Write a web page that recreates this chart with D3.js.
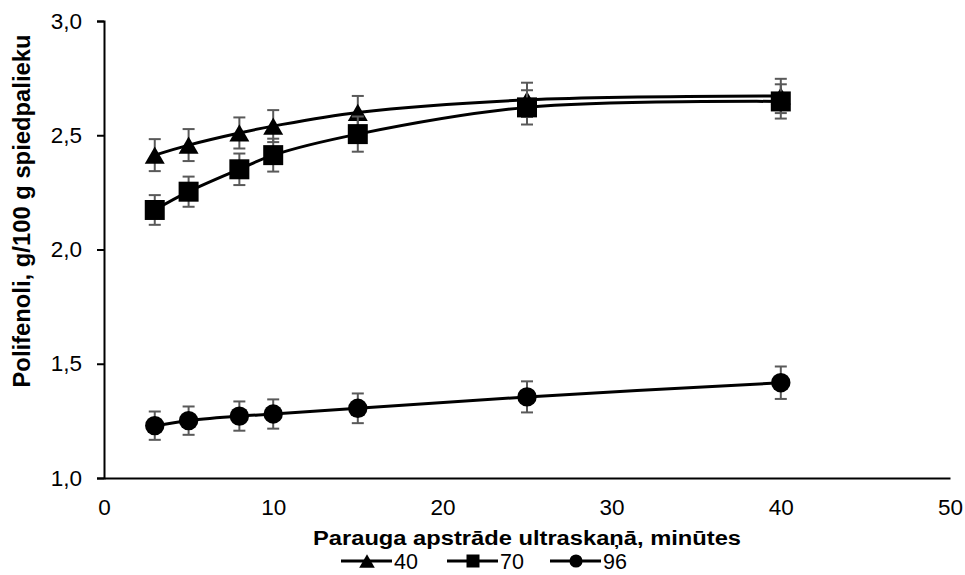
<!DOCTYPE html>
<html>
<head>
<meta charset="utf-8">
<script src="https://cdn.jsdelivr.net/npm/d3@7"></script>
<style>
  html, body { margin: 0; padding: 0; background: #fff; }
  svg { display: block; font-family: "Liberation Sans", Arial, sans-serif; }
</style>
</head>
<body>
<svg id="chart" width="965" height="575"></svg>
<script>
// Treatment time in the ultrasonic bath, minutes
const minutes = [3, 5, 8, 10, 15, 25, 40];

// Polyphenol content (g/100 g pomace) for each ethanol concentration
const series40 = [2.413, 2.457, 2.51, 2.54, 2.60, 2.655, 2.672];
const series70 = [2.173, 2.253, 2.351, 2.413, 2.505, 2.622, 2.648];
const series96 = [1.229, 1.251, 1.271, 1.28, 1.305, 1.355, 1.417];

// Standard deviations shown as error bars
const err40 = [0.070, 0.070, 0.068, 0.070, 0.072, 0.075, 0.075];
const err70 = [0.065, 0.066, 0.069, 0.072, 0.077, 0.075, 0.075];
const err96 = [0.062, 0.062, 0.064, 0.064, 0.065, 0.068, 0.071];

const seriesNames = ["40", "70", "96"];
const xTicks = [0, 10, 20, 30, 40, 50];
const yTicks = [1.0, 1.5, 2.0, 2.5, 3.0];

const svg = d3.select("#chart");
const plotLeft = 104, plotRight = 950, plotTop = 21, plotBottom = 478;

const x = d3.scaleLinear().domain([0, 50]).range([plotLeft, plotRight]);
const y = d3.scaleLinear().domain([1, 3]).range([plotBottom, plotTop]);
const fmt = v => d3.format(".1f")(v).replace(".", ",");

// Axes
const yAxis = svg.append("g")
  .attr("transform", `translate(${plotLeft},0)`)
  .call(d3.axisLeft(y).tickValues(yTicks).tickFormat(fmt).tickSizeOuter(0).tickSize(7).tickPadding(15));
const xAxis = svg.append("g")
  .attr("transform", `translate(0,${plotBottom})`)
  .call(d3.axisBottom(x).tickValues(xTicks).tickFormat(d3.format("d")).tickSizeOuter(0).tickSize(0).tickPadding(21));
[yAxis, xAxis].forEach(g => {
  g.select(".domain").attr("stroke", "#000").attr("stroke-width", 2);
  g.selectAll(".tick line").attr("stroke", "#000").attr("stroke-width", 2);
  g.selectAll(".tick text").attr("fill", "#000")
    .style("font-size", "22.5px").style("font-family", "Liberation Sans, Arial, sans-serif");
});

// Axis titles
svg.append("text")
  .attr("x", 527).attr("y", 545)
  .attr("text-anchor", "middle")
  .attr("textLength", 428).attr("lengthAdjust", "spacingAndGlyphs")
  .style("font-size", "20px").style("font-weight", "bold")
  .text("Parauga apstrāde ultraskaņā, minūtes");
svg.append("text")
  .attr("transform", "translate(30,211) rotate(-90)")
  .attr("text-anchor", "middle")
  .attr("textLength", 353).attr("lengthAdjust", "spacingAndGlyphs")
  .style("font-size", "23px").style("font-weight", "bold")
  .text("Polifenoli, g/100 g spiedpalieku");

const allSeries = [
  { name: seriesNames[0], values: series40, err: err40, shape: d3.symbolTriangle },
  { name: seriesNames[1], values: series70, err: err70, shape: d3.symbolSquare },
  { name: seriesNames[2], values: series96, err: err96, shape: d3.symbolCircle }
];

// Marker area for plot (big) and legend (small) symbols
function symArea(shape, big) {
  if (shape === d3.symbolTriangle) return big ? 173 : 105;
  if (shape === d3.symbolSquare) return big ? 400 : 169;
  return big ? 295 : 135;
}
// d3's triangle sits on its centroid; shift it so its bounding box is centred
function symOffset(shape, area) {
  if (shape !== d3.symbolTriangle) return 0;
  return Math.sqrt(area / (3 * Math.sqrt(3))) / 2;
}

const line = d3.line()
  .x((d, i) => x(minutes[i]))
  .y(d => y(d))
  .curve(d3.curveCatmullRom.alpha(0.5));

allSeries.forEach(s => {
  const g = svg.append("g");
  // error bars
  const eb = g.append("g").attr("stroke", "#595959").attr("stroke-width", 2);
  s.values.forEach((v, i) => {
    const cx = x(minutes[i]);
    const y1 = y(v + s.err[i]), y0 = y(v - s.err[i]);
    eb.append("line").attr("x1", cx).attr("x2", cx).attr("y1", y1).attr("y2", y0);
    eb.append("line").attr("x1", cx - 6).attr("x2", cx + 6).attr("y1", y1).attr("y2", y1);
    eb.append("line").attr("x1", cx - 6).attr("x2", cx + 6).attr("y1", y0).attr("y2", y0);
  });
  g.append("path").datum(s.values)
    .attr("d", line).attr("fill", "none")
    .attr("stroke", "#000").attr("stroke-width", 3);
  const area = symArea(s.shape, true);
  const off = symOffset(s.shape, area);
  g.selectAll(".m").data(s.values).join("path")
    .attr("transform", (d, i) => `translate(${x(minutes[i])},${y(d) + off})`)
    .attr("d", d3.symbol().type(s.shape).size(area)())
    .attr("fill", "#000");
});

// Legend
const legend = svg.append("g");
const legendX = [341, 447, 550];
allSeries.forEach((s, i) => {
  const lx = legendX[i], ly = 561;
  const area = symArea(s.shape, false);
  legend.append("line").attr("x1", lx).attr("x2", lx + 51)
    .attr("y1", ly).attr("y2", ly).attr("stroke", "#000").attr("stroke-width", 3);
  legend.append("path")
    .attr("transform", `translate(${lx + 26},${ly + symOffset(s.shape, area)})`)
    .attr("d", d3.symbol().type(s.shape).size(area)()).attr("fill", "#000");
  legend.append("text").attr("x", lx + 53).attr("y", 569)
    .style("font-size", "21.5px").text(s.name);
});
</script>
</body>
</html>
